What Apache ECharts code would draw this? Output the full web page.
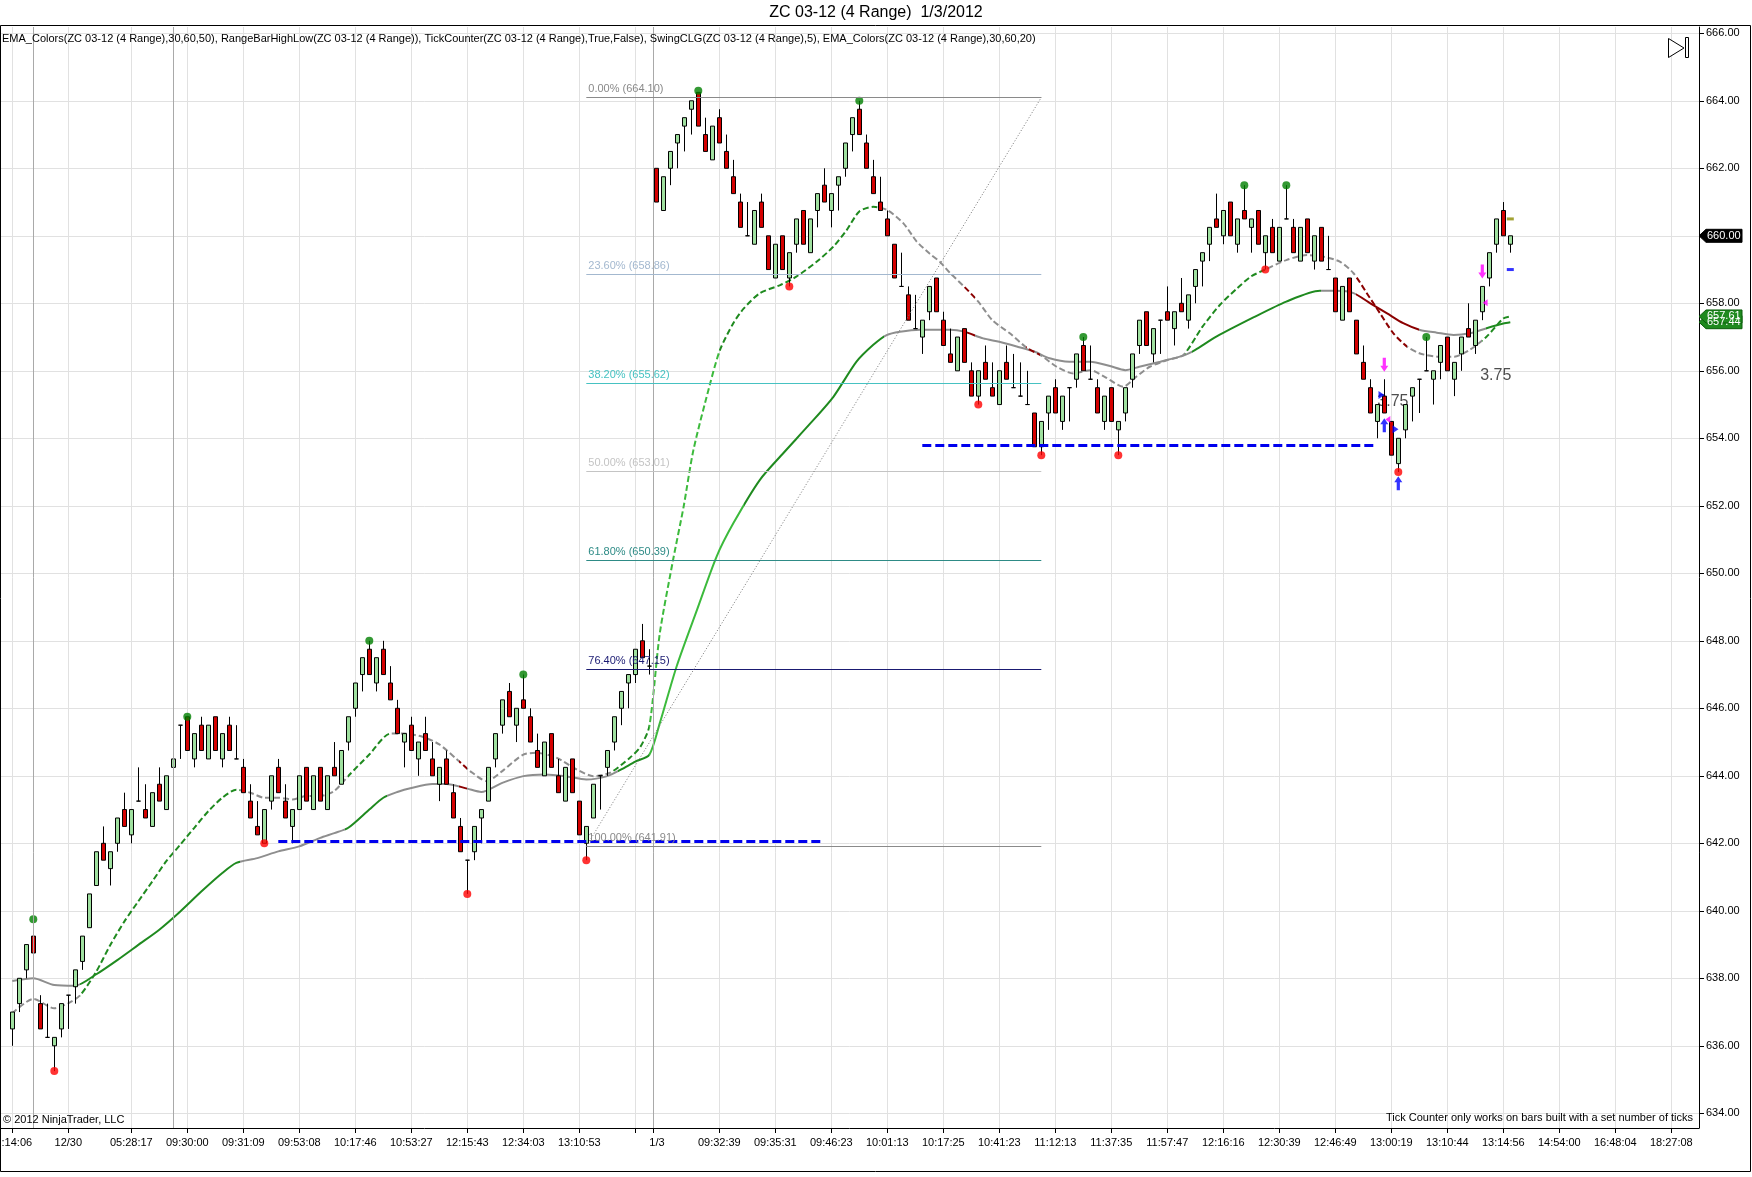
<!DOCTYPE html>
<html><head><meta charset="utf-8">
<script src="https://cdn.jsdelivr.net/npm/echarts@6/dist/echarts.min.js"></script>
<style>html,body{margin:0;padding:0;background:#fff}#c{width:1752px;height:1177px}</style>
</head><body><div id="c"></div>
<script>
// ---------------- DATA ----------------
const chartTitle = 'ZC 03-12 (4 Range)  1/3/2012';
const indicatorLine = 'EMA_Colors(ZC 03-12 (4 Range),30,60,50), RangeBarHighLow(ZC 03-12 (4 Range)), TickCounter(ZC 03-12 (4 Range),True,False), SwingCLG(ZC 03-12 (4 Range),5), EMA_Colors(ZC 03-12 (4 Range),30,60,20)';
const copyrightText = '\u00a9 2012 NinjaTrader, LLC';
const tickCounterText = 'Tick Counter only works on bars built with a set number of ticks';

const barOpen = [
636.5,637.25,638.25,639.25,637.25,636.25,636.0,636.5,637.5,637.75,
638.5,639.5,640.75,642,641.25,642,643,642.25,643.25,643,
642.5,643.75,643,644.25,645.5,645.75,644.5,645.5,644.5,645.75,
644.5,645.5,644.5,644.25,643.25,642.5,642,643.25,644.25,643.25,
642.5,643,644.25,643,644.25,643,644.25,643.75,645,646,
647,647.75,646.75,647.75,646.75,646,645,645.5,644.5,645.25,
644.5,643.75,644.5,643.5,642.5,641.5,641.75,642.75,643.25,644.5,
645.5,646.5,645.5,646.25,645.75,644.75,644,645.25,644,643.25,
644.5,643.25,642,642.75,644,644.25,645,646,646.75,647,
648,647.25,662,660.75,662,662.75,663.25,663.75,664.25,663,
662.25,663.5,662.5,661.75,661,660,659.75,661,660,658.75,
660,658.75,659.75,660.75,659.5,660.75,661.5,660.75,661.5,662,
663,663.75,662.75,661.75,661,660.5,659.75,658.5,658.25,657.25,
657,657.75,658.75,657.5,656.5,656,657.25,656,655.25,656.25,
655.5,655,656.25,655.5,655.25,655,654.75,653.75,654.75,655.5,
654.5,655.5,655.75,656.75,655.75,655.5,654.5,655.5,654.25,654.75,
655.75,656.75,657.75,656.5,657.5,657.75,657.25,658,657.5,658.5,
659.25,659.75,660.5,660,661,659.75,660.75,660.25,660.75,659.5,
660.25,659.25,660.5,660.25,659.25,660.5,659.25,660.25,659,658.75,
657.5,658.75,657.5,656.25,655.5,654.5,655.25,654.5,653.25,654.25,
655.25,655.75,656,655.75,656.25,657,655.75,656.5,657.25,656.75,
657.75,658.75,659.75,660.75,659.75];
const barClose = [
637,638,639,638.75,636.5,636.25,636.25,637.25,637.5,638.25,
639.25,640.5,641.75,641.5,641.75,642.75,642.5,643,643.25,642.75,
643.5,643.25,644,644.5,645.5,644.75,645.25,644.75,645.5,644.75,
645.25,644.75,644.5,643.5,642.75,642.25,643,644,643.5,642.75,
643,644,643.25,644,643.25,644,644,644.75,645.75,646.75,
647.5,647,647.5,647,646.25,645.25,645.25,644.75,645,644.75,
644,644.25,643.75,642.75,641.75,641.5,642.5,643,644.25,645.25,
646.25,645.75,646,646,645,644.25,645,644.25,643.5,644.25,
643.5,642.25,642.5,643.75,644,644.75,645.75,646.5,647,647.75,
647.5,647.25,661,661.75,662.5,663,663.5,664,663.25,662.5,
663.25,662.75,662,661.25,660.25,660,660.75,660.25,659,659.75,
659,659.5,660.5,659.75,660.5,661.25,661,661.25,661.75,662.75,
663.5,663,662,661.25,660.75,660,658.75,658.5,657.5,657.25,
657.5,658.5,657.75,656.75,656.25,657,656.25,655.25,656,655.75,
655.25,656,655.75,655.5,655.25,655,653.75,654.5,655.25,654.75,
655.25,655.5,656.5,656,655.75,654.75,655.25,654.5,654.5,655.5,
656.5,657.5,656.75,657.25,657.5,657.5,657.75,657.75,658.25,659,
659.5,660.25,660.25,660.75,660,660.5,660.5,660.5,659.75,660,
659.5,660.25,660.5,659.5,660.25,659.5,660,659.25,659,657.75,
658.5,657.75,656.5,655.75,654.75,655,654.75,653.5,654,655,
655.5,655.75,656,656,656.75,656,656.25,657,657,657.5,
658.5,659.5,660.5,660,660];
const barLow = [
636,637,638,638.75,636.5,636.25,635.25,636.25,636.5,637.25,
638.25,639.5,640.75,641.5,640.75,641.75,642.5,642,643.25,642.75,
642.5,643.25,643,643.75,644.5,644.75,644.25,644.75,644.5,644.75,
644.25,644.75,644.5,643.5,642.75,642.25,642,643,643.5,642.75,
642,643,643.25,643,643.25,643,644,643.75,644.75,645.75,
646.5,647,646.5,647,646.25,645.25,644.25,644.75,644,644.75,
644,643.25,643.75,642.75,641.75,640.5,641.5,642,643.25,644.25,
645.25,645.75,645,646,645,644.25,644,644.25,643.5,643.25,
643.5,642.25,641.5,642.75,643,644,644.75,645.5,646,646.75,
647.5,647,661,660.75,661.5,662,662.5,663,663.25,662.5,
662.25,662.75,662,661.25,660.25,660,659.75,660.25,659,658.75,
659,658.5,659.5,659.75,659.5,660.25,661,660.25,660.75,661.75,
662.5,663,662,661.25,660.75,660,658.75,658.5,657.5,657.25,
656.5,657.5,657.75,656.75,656.25,656,656.25,655.25,655,655.75,
655.25,655,655.75,655.5,655.25,655,653.75,653.5,654.25,654.75,
654.25,654.5,655.5,656,655.75,654.75,654.25,654.5,653.5,654.5,
655.5,656.5,656.75,656.25,656.5,657.5,656.75,657.75,657.25,658,
658.5,659.25,660.25,659.75,660,659.5,660.5,659.5,659.75,659,
659.5,659.25,660.5,659.5,659.25,659.5,659,659.25,659,657.75,
657.5,657.75,656.5,655.75,654.75,654,654.75,653.5,653,654,
654.5,654.75,656,655,655.75,656,655.25,656,657,656.5,
657.5,658.5,659.5,660,659.5];
const barHigh = [
637,638,639,639.75,637.5,637.25,636.25,637.25,637.5,638.25,
639.25,640.5,641.75,642.5,641.75,642.75,643.5,643,644.25,643.75,
643.5,644.25,644,644.75,645.5,645.75,645.25,645.75,645.5,645.75,
645.25,645.75,645.5,644.5,643.75,643.25,643,644,644.5,643.75,
643,644,644.25,644,644.25,644,645,644.75,645.75,646.75,
647.5,648,647.5,648,647.25,646.25,645.25,645.75,645,645.75,
645,644.25,644.75,643.75,642.75,641.5,642.5,643,644.25,645.25,
646.25,646.75,646,647,646,645.25,645,645.25,644.5,644.25,
644.5,643.25,642.5,643.75,644,644.75,645.75,646.5,647,647.75,
648.5,647.75,662,661.75,662.5,663,663.5,664,664.25,663.5,
663.25,663.75,663,662.25,661.25,661,660.75,661.25,660,659.75,
660,659.5,660.5,660.75,660.5,661.25,662,661.25,661.75,662.75,
663.5,664,663,662.25,661.75,660.75,659.75,659.5,658.5,658.25,
657.5,658.5,658.75,657.75,657.25,657,657.25,656.25,656,656.75,
656.25,656,656.75,656.5,656.25,656,654.75,654.5,655.25,655.75,
655.25,655.5,656.5,657,656.75,655.75,655.25,655.5,654.5,655.5,
656.5,657.5,657.75,657.25,657.5,658.5,657.75,658.75,658.25,659,
659.5,660.25,661.25,660.75,661,660.5,661.5,660.5,660.75,660,
660.5,660.25,661.5,660.5,660.25,660.5,660,660.25,660,658.75,
658.5,658.75,657.5,656.75,655.75,655,655.75,654.5,654,655,
655.5,655.75,657,656,656.75,657,656.25,657,658,657.5,
658.5,659.5,660.5,661,660];

// EMA readings [barIndex, price]
const emaSlow = [[0,637.92],[3,638.0],[6,637.8],[9,637.78],[12,638.12],[15,638.54],[18,638.99],[21,639.44],[24,639.98],[27,640.57],[30,641.12],[32,641.42],[35,641.56],[38,641.76],[41,641.91],[44,642.16],[46,642.3],[48,642.46],[51,643.0],[53,643.35],[55,643.52],[57,643.64],[60,643.76],[62,643.76],[65,643.62],[67,643.52],[70,643.79],[73,643.99],[76,644.04],[79,643.99],[82,643.89],[85,643.99],[87,644.19],[89,644.42],[91,644.62],[92.5,645.56],[94.9,647.24],[97.8,648.91],[100.6,650.49],[103,651.48],[106.8,652.77],[110.1,653.55],[114,654.44],[117.3,655.23],[120.6,656.27],[123,656.77],[124.9,657.06],[126.8,657.16],[129.7,657.22],[134,657.22],[136,657.16],[138.7,656.96],[141,656.86],[143.5,656.72],[146,656.57],[148.2,656.37],[151,656.27],[154,656.27],[156.8,656.14],[159,656.02],[161,656.12],[164,656.27],[167.3,656.45],[169,656.62],[172,657.01],[177.3,657.58],[182,658.05],[186.8,658.37],[189.2,658.37],[191.6,658.3],[194,658.0],[196.4,657.7],[198.7,657.41],[201.1,657.21],[203.5,657.13],[205.9,657.06],[208.2,657.11],[210.6,657.26],[213,657.4],[214,657.44]];
const emaFast = [[0,636.96],[3,637.39],[6,637.11],[8,637.26],[9.7,637.5],[12,638.2],[14,638.99],[16,639.68],[18,640.28],[20,640.87],[22,641.47],[24,641.96],[26,642.46],[28,642.95],[30,643.35],[32,643.59],[34,643.5],[36,643.35],[38,643.35],[40,643.3],[42,643.4],[44,643.4],[46,643.55],[48.2,644.04],[51,644.63],[54,645.25],[56,645.25],[58.7,645.15],[61,644.93],[63.5,644.49],[65.4,644.14],[67.8,643.84],[70,644.14],[73,644.63],[75,644.68],[77.8,644.53],[80.6,644.19],[83,643.99],[85.4,644.09],[88.2,644.53],[89.7,644.85],[91,645.46],[92.5,648.22],[94.4,650.4],[95.9,651.97],[97.3,653.65],[99.7,655.63],[101.1,656.62],[103,657.41],[104.5,657.85],[106.8,658.3],[109.7,658.54],[112,658.79],[114.9,659.23],[117.3,659.68],[119.2,660.17],[121,660.72],[123,660.86],[125,660.76],[127.3,660.37],[129.2,659.83],[131,659.48],[132.5,659.23],[134,658.89],[136,658.49],[138,658.05],[140,657.5],[142.5,657.11],[145,656.67],[147,656.45],[149.2,656.12],[151.6,655.92],[154,656.02],[156,655.83],[158.7,655.53],[160.6,655.83],[162.5,656.12],[165,656.32],[167.3,656.47],[170,657.3],[172.5,657.95],[175,658.45],[177,658.8],[179,659.0],[182,659.28],[185,659.43],[187.3,659.38],[189.7,659.23],[191.6,658.89],[193.5,658.3],[195.4,657.7],[197.3,657.11],[199.3,656.71],[201,656.52],[203.5,656.42],[206,656.42],[208.2,656.62],[210.6,657.01],[213,657.55],[214,657.61]];

// slope colouring ranges [fromBar, toBar, state]
const slowStates = [[-5,9.7,'flat'],[9.7,32.5,'up'],[32.5,47.5,'flat'],[47.5,53.5,'up'],[53.5,63.8,'flat'],[63.8,65,'down'],[65,86.5,'flat'],[86.5,91,'up'],[91,104.5,'steep'],[104.5,124.5,'up'],[124.5,136,'flat'],[136,137.5,'down'],[137.5,168.5,'flat'],[168.5,187,'up'],[187,192,'flat'],[192,201,'down'],[201,210.5,'flat'],[210.5,250,'up']];
const fastStates = [[-5,9.7,'flat'],[9.7,32.5,'up'],[32.5,48,'flat'],[48,54,'up'],[54,63.8,'flat'],[63.8,65,'down'],[65,85.5,'flat'],[85.5,91,'up'],[91,101,'steep'],[101,123.5,'up'],[123.5,136,'flat'],[136,137.5,'down'],[137.5,144.8,'flat'],[144.8,146.8,'down'],[146.8,167.5,'flat'],[167.5,179,'up'],[179,192,'flat'],[192,199.3,'down'],[199.3,210,'flat'],[210,250,'up']];

const swingHighs = [[3,639.75],[25,645.75],[51,648.0],[73,647.0],[98,664.3],[121,664.0],[153,657.0],[176,661.5],[182,661.5],[202,657.0]];
const swingLows = [[6,635.25],[36,642.0],[65,640.5],[82,641.5],[111,658.5],[138,655.0],[147,653.5],[158,653.5],[179,659.0],[198,653.0]];

// Fibonacci retracement
const fibFromBar = 82, fibToBar = 147;
const fibPercent = ['0.00%','23.60%','38.20%','50.00%','61.80%','76.40%','100.00%'];
const fibLevel = [664.10,658.86,655.62,653.01,650.39,647.15,641.91];

// RangeBarHighLow lines [fromBar, toBar, price]
const rangeLines = [[38,115.5,642.05],[130,194.7,653.78]];
const sessionBreaks = [3, 23, 91.5];

// tick counter markers
const arrowDownMagenta = [[196,656.18],[210,658.94]];
const arrowUpBlue = [[196,654.39],[198,652.67]];
const triRightBlue = [[195.6,655.28],[197.6,654.27]];
const triLeftMagenta = [[196.5,654.56],[210.4,658.02]];
const dashOlive = [[214,660.5]];
const dashBlue = [[214,659.0]];
const annotations = [[195.0,655.08,'3.75'],[209.7,655.85,'3.75']];

// axis ticks / labels
const yTicks = [634,636,638,640,642,644,646,648,650,652,654,656,658,660,662,664,666];
const xTickPos = [0,8,17,25,33,41,49,57,65,73,81,89,91.5,101,109,117,125,133,141,149,157,165,173,181,189,197,205,213,221,229,237];
const xLabelPos = [0.65,8,17,25,33,41,49,57,65,73,81,92.1,101,109,117,125,133,141,149,157,165,173,181,189,197,205,213,221,229,237];
const xLabelText = [':14:06','12/30','05:28:17','09:30:00','09:31:09','09:53:08','10:17:46','10:53:27','12:15:43','12:34:03','13:10:53','1/3','09:32:39','09:35:31','09:46:23','10:01:13','10:17:25','10:41:23','11:12:13','11:37:35','11:57:47','12:16:16','12:30:39','12:46:49','13:00:19','13:10:44','13:14:56','14:54:00','16:48:04','18:27:08'];

// right-axis price markers
const priceMarkers = [[657.44,'ema'],[657.61,'ema'],[660.00,'last']];

// ---------------- CHART ----------------
const FONT = 'Liberation Sans';
const stateColor = {flat:'#8e8e8e', up:'#1f8a1f', steep:'#3cba3c', down:'#8b0000'};
const fibColors = ['#8a8a8a','#a3b8cf','#46c2c2','#c4c4c4','#2e8b86','#1a1a72','#8a8a8a'];

const plotLeft = 0, plotRight = 1699, plotTop = 27, plotBottom = 1128;
const barPitch = 7, firstBarPx = 12.3;
const xMin = -firstBarPx / barPitch;
const xMax = xMin + (plotRight - plotLeft) / barPitch;
const pxPerPoint = 33.75, px666 = 33.3;
const yMax = 666 + (px666 - plotTop) / pxPerPoint;
const yMin = yMax - (plotBottom - plotTop) / pxPerPoint;

const candles = barOpen.map((o, i) => [i, o, barClose[i], barLow[i], barHigh[i]]);

const chart = echarts.init(document.getElementById('c'), null, {renderer:'canvas', width:1752, height:1177});

const option = {
  animation: false,
  backgroundColor: '#fff',
  textStyle: {fontFamily: FONT},
  grid: {left: plotLeft, right: 1752 - plotRight, top: plotTop, bottom: 1177 - plotBottom, containLabel: false, outerBoundsMode: 'none'},
  xAxis: {
    type: 'value', min: xMin, max: xMax,
    axisLine: {show: true, onZero: false, lineStyle: {color: '#000', width: 1}},
    axisTick: {show: true, customValues: xTickPos, length: 5, lineStyle: {color: '#000'}},
    axisLabel: {show: true, customValues: xLabelPos, margin: 9, color: '#000', fontSize: 11, fontFamily: FONT,
      formatter: v => { const i = xLabelPos.findIndex(p => Math.abs(p - v) < 1e-6); return i >= 0 ? xLabelText[i] : ''; }},
    splitLine: {show: true, lineStyle: {color: '#e1e1e1', width: 1}}
  },
  yAxis: {
    type: 'value', position: 'right', min: yMin, max: yMax, scale: true,
    axisLine: {show: true, onZero: false, lineStyle: {color: '#000', width: 1}},
    axisTick: {show: true, customValues: yTicks, length: 5, lineStyle: {color: '#000'}},
    axisLabel: {show: true, customValues: yTicks, margin: 7, color: '#000', fontSize: 11, fontFamily: FONT, formatter: v => v.toFixed(2)},
    splitLine: {show: true, lineStyle: {color: '#e1e1e1', width: 1}}
  },
  visualMap: [
    {type: 'piecewise', show: false, dimension: 0, seriesIndex: 1,
      pieces: slowStates.map(([a, b, s]) => ({gte: a, lt: b, color: stateColor[s]}))},
    {type: 'piecewise', show: false, dimension: 0, seriesIndex: 2,
      pieces: fastStates.map(([a, b, s]) => ({gte: a, lt: b, color: stateColor[s]}))}
  ],
  series: [
    { // 0: fib + session lines (behind)
      type: 'line', data: [], z: 1, silent: true,
      markLine: {
        silent: true, symbol: ['none', 'none'], animation: false,
        data: [
          ...sessionBreaks.map(x => ({xAxis: x, lineStyle: {color: '#a9a9a9', width: 1, type: 'solid'}, label: {show: false}})),
          ...fibLevel.map((lv, i) => [
            {coord: [fibFromBar, lv], lineStyle: {color: fibColors[i], width: 1, type: 'solid'},
             label: {show: true, position: 'insideStartTop', distance: [2, 3], formatter: fibPercent[i] + ' (' + lv.toFixed(2) + ')', color: fibColors[i], fontSize: 11, fontFamily: FONT}},
            {coord: [fibToBar, lv]}
          ]),
          [{coord: [fibFromBar, fibLevel[6]], lineStyle: {color: '#777', width: 1, type: [1, 2]}, label: {show: false}},
           {coord: [fibToBar, fibLevel[0]]}]
        ]
      }
    },
    { // 1: slow EMA solid
      type: 'line', data: emaSlow, z: 2, showSymbol: false, smooth: 0.25, silent: true,
      lineStyle: {width: 2, type: 'solid'}
    },
    { // 2: fast EMA dashed
      type: 'line', data: emaFast, z: 2, showSymbol: false, smooth: 0.25, silent: true,
      lineStyle: {width: 2, type: [6, 3]}
    },
    { // 3: annotations text (behind bars)
      type: 'scatter', data: annotations, z: 2, symbolSize: 0, silent: true,
      encode: {x: 0, y: 1},
      label: {show: true, position: 'inside', align: 'left', verticalAlign: 'middle', formatter: p => p.value[2], fontSize: 16, color: '#222', fontFamily: FONT}
    },
    { // 4: candles
      type: 'candlestick', data: candles, z: 3, barWidth: 5, silent: true,
      encode: {x: 0, y: [1, 2, 3, 4]},
      itemStyle: {color: '#9fe09f', color0: '#d40000', borderColor: '#000', borderColor0: '#000', borderWidth: 1}
    },
    { // 5: swing highs
      type: 'scatter', data: swingHighs, z: 4, symbol: 'circle', symbolSize: 8, silent: true,
      itemStyle: {color: '#008000'}
    },
    { // 6: swing lows
      type: 'scatter', data: swingLows, z: 4, symbol: 'circle', symbolSize: 8, silent: true,
      itemStyle: {color: '#ff0000'}
    },
    { // 7: range lines
      type: 'line', data: [], z: 5, silent: true,
      markLine: {silent: true, symbol: ['none', 'none'], animation: false, label: {show: false},
        data: rangeLines.map(([a, b, p]) => [{coord: [a, p], lineStyle: {color: '#0000ee', width: 3, type: [9, 4]}}, {coord: [b, p]}])}
    },
    { type: 'scatter', data: arrowDownMagenta, z: 6, silent: true, symbol: 'path://M3,0L7,0L7,8L10,8L5,14L0,8L3,8Z', symbolSize: [8, 14], itemStyle: {color: '#ff00ff'} },
    { type: 'scatter', data: arrowUpBlue, z: 6, silent: true, symbol: 'path://M5,0L10,6L7,6L7,14L3,14L3,6L0,6Z', symbolSize: [8, 14], itemStyle: {color: '#0000ff'} },
    { type: 'scatter', data: triRightBlue, z: 6, silent: true, symbol: 'path://M0,0L8,5L0,10Z', symbolSize: [6, 8], itemStyle: {color: '#0000ff'} },
    { type: 'scatter', data: triLeftMagenta, z: 6, silent: true, symbol: 'path://M8,0L0,5L8,10Z', symbolSize: [5, 7], itemStyle: {color: '#ff00ff'} },
    { type: 'scatter', data: dashOlive, z: 6, silent: true, symbol: 'rect', symbolSize: [7, 3], itemStyle: {color: '#8b8b00'} },
    { type: 'scatter', data: dashBlue, z: 6, silent: true, symbol: 'rect', symbolSize: [7, 3], itemStyle: {color: '#0000ff'} }
  ]
};
chart.setOption(option);

// overlays: frame, texts, right-axis price boxes
const g = [];
g.push({type: 'rect', z: 100, silent: true, shape: {x: 0.5, y: 25.5, width: 1750, height: 1146}, style: {fill: 'none', stroke: '#000', lineWidth: 1}});
g.push({type: 'text', z: 100, silent: true, style: {x: 876, y: 13, text: chartTitle, font: '16px "Liberation Sans"', fill: '#000', textAlign: 'center', textVerticalAlign: 'middle'}});
g.push({type: 'text', z: 100, silent: true, style: {x: 2, y: 39, text: indicatorLine, font: '11px "Liberation Sans"', fill: '#000', textAlign: 'left', textVerticalAlign: 'middle'}});
g.push({type: 'text', z: 100, silent: true, style: {x: 3, y: 1120, text: copyrightText, font: '11px "Liberation Sans"', fill: '#000', textAlign: 'left', textVerticalAlign: 'middle'}});
g.push({type: 'text', z: 100, silent: true, style: {x: 1693, y: 1118, text: tickCounterText, font: '11px "Liberation Sans"', fill: '#000', textAlign: 'right', textVerticalAlign: 'middle'}});
// play-to-end icon
g.push({type: 'polygon', z: 100, silent: true, shape: {points: [[1668.5, 38.5], [1668.5, 57.5], [1684, 48]]}, style: {fill: '#fff', stroke: '#000', lineWidth: 1}});
g.push({type: 'rect', z: 100, silent: true, shape: {x: 1685.5, y: 37.5, width: 3, height: 20}, style: {fill: '#fff', stroke: '#000', lineWidth: 1}});
priceMarkers.forEach(([v, kind]) => {
  const y = chart.convertToPixel({yAxisIndex: 0}, v);
  const fill = kind === 'last' ? '#000' : '#1f8a1f';
  g.push({type: 'polygon', z: 101, silent: true, shape: {points: [[plotRight, y], [plotRight + 7, y - 6.5], [1742, y - 6.5], [1742, y + 6.5], [plotRight + 7, y + 6.5]]}, style: {fill: fill, stroke: kind === 'last' ? '#000' : '#0b5e0b', lineWidth: 1}});
  g.push({type: 'text', z: 102, silent: true, style: {x: plotRight + 8, y: y, text: v.toFixed(2), font: '11px "Liberation Sans"', fill: '#fff', textAlign: 'left', textVerticalAlign: 'middle'}});
});
chart.setOption({graphic: g});
</script>
</body></html>
